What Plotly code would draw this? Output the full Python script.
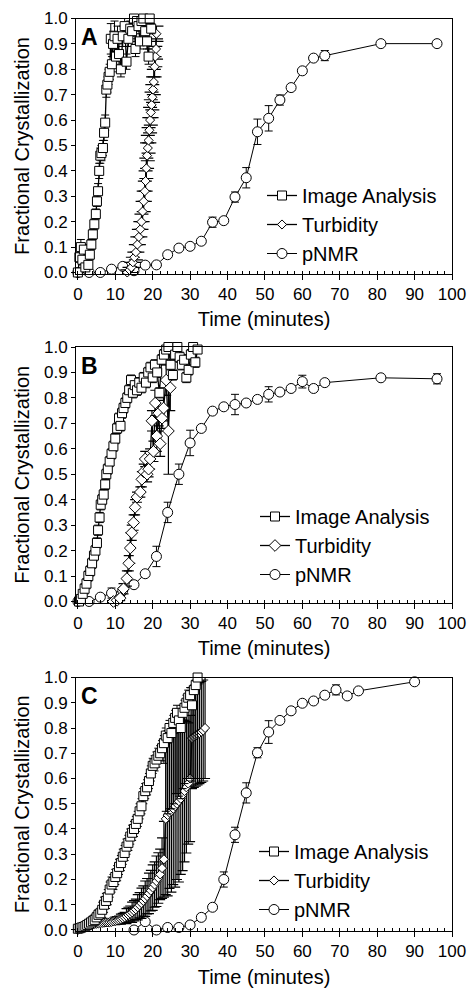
import plotly.graph_objects as go

# ---------------- Panel A ----------------
a_img_t = [0, 0.4, 0.8, 1.2, 1.6, 2.0, 2.8, 3.2, 3.6, 4.0, 4.4, 4.8, 5.1, 5.4, 5.7, 6.0, 6.3, 6.7, 7.0, 7.3,
           7.6, 7.9, 8.2, 8.5, 8.8, 9.1, 9.4, 9.8, 10.2, 10.6, 11.0, 11.5, 12.0, 12.5, 13.0, 13.5, 14.0, 14.5,
           15.0, 15.4, 15.8, 16.2, 16.6, 17.0, 17.5, 18.0, 18.5, 18.9, 19.2, 19.6]
a_img_f = [0.00, 0.06, 0.10, 0.05, 0.09, 0.02, 0.03, 0.07, 0.11, 0.15, 0.19, 0.23, 0.28, 0.32, 0.40, 0.46, 0.47,
           0.49, 0.55, 0.59, 0.72, 0.74, 0.77, 0.79, 0.92, 0.82, 0.90, 0.93, 0.85, 0.92, 0.86, 0.80, 0.93, 0.97,
           0.83, 0.92, 0.96, 0.95, 1.00, 0.88, 0.99, 0.97, 0.91, 0.99, 1.00, 0.95, 0.91, 0.85, 1.00, 0.96]
a_img_e = [0.01, 0.02, 0.03, 0.02, 0.02, 0.01, 0.01, 0.02, 0.02, 0.02, 0.02, 0.02, 0.02, 0.03, 0.03, 0.03, 0.03,
           0.03, 0.03, 0.03, 0.03, 0.03, 0.03, 0.03, 0.06, 0.03, 0.05, 0.06, 0.04, 0.05, 0.04, 0.03, 0.04, 0.03,
           0.03, 0.03, 0.03, 0.03, 0.02, 0.03, 0.02, 0.02, 0.03, 0.02, 0.02, 0.02, 0.03, 0.03, 0.02, 0.02]

a_tur_t = [13.2, 13.8, 14.3, 14.7, 15.1, 15.5, 15.9, 16.3, 16.7, 17.0, 17.3, 17.6, 17.9, 18.1, 18.3, 18.5, 18.7,
           18.9, 19.1, 19.3, 19.5, 19.7, 19.9, 20.1, 20.3, 20.5, 20.7, 20.9, 21.0]
a_tur_f = [0.00, 0.01, 0.02, 0.04, 0.06, 0.08, 0.11, 0.14, 0.17, 0.20, 0.24, 0.28, 0.32, 0.36, 0.41, 0.46, 0.49,
           0.52, 0.56, 0.60, 0.63, 0.66, 0.69, 0.72, 0.75, 0.81, 0.85, 0.88, 0.94]
a_tur_e = [0.01, 0.01, 0.02, 0.02, 0.02, 0.03, 0.03, 0.03, 0.03, 0.03, 0.04, 0.04, 0.04, 0.04, 0.04, 0.05, 0.05,
           0.05, 0.05, 0.05, 0.05, 0.05, 0.05, 0.05, 0.05, 0.04, 0.04, 0.04, 0.03]

a_nmr_t = [0, 3, 6, 9, 12, 15, 18, 21, 24, 27, 30, 33, 36, 39, 42, 45, 48, 51, 54, 57, 60, 63, 66, 81, 96]
a_nmr_f = [0.00, 0.00, 0.00, 0.013, 0.024, 0.007, 0.029, 0.03, 0.07, 0.096, 0.103, 0.123, 0.198, 0.204, 0.297,
           0.373, 0.554, 0.607, 0.679, 0.728, 0.794, 0.844, 0.854, 0.901, 0.901]
a_nmr_e = [0.005, 0.005, 0.005, 0.005, 0.005, 0.005, 0.005, 0.005, 0.01, 0.01, 0.01, 0.01, 0.02, 0.01, 0.02,
           0.04, 0.05, 0.05, 0.02, 0.01, 0.01, 0.01, 0.02, 0.005, 0.005]

# ---------------- Panel B ----------------
b_img_t = [0.3, 0.8, 1.3, 1.8, 2.3, 2.8, 3.3, 3.8, 4.3, 4.7, 5.1, 5.4, 5.8, 6.1, 6.5, 6.9, 7.3, 7.6, 8.0, 8.5,
           9.0, 9.5, 10.0, 10.5, 11.0, 11.4, 11.8, 12.2, 12.7, 13.2, 13.7, 14.2, 14.7, 15.2, 15.8, 16.4, 17.0,
           17.6, 18.2, 18.8, 19.4, 20.0, 20.6, 21.2, 21.8, 22.4, 23.0, 23.6, 24.2, 24.8, 25.4, 26.0, 26.6, 27.2,
           27.8, 28.4, 29.0, 29.6, 30.2, 30.8, 31.4, 32.0]
b_img_f = [0.00, 0.01, 0.03, 0.05, 0.07, 0.10, 0.12, 0.15, 0.18, 0.20, 0.23, 0.28, 0.33, 0.38, 0.40, 0.42, 0.46,
           0.50, 0.52, 0.55, 0.58, 0.61, 0.64, 0.68, 0.72, 0.69, 0.74, 0.76, 0.78, 0.80, 0.83, 0.87, 0.82, 0.85,
           0.83, 0.86, 0.84, 0.88, 0.86, 0.90, 0.92, 0.88, 0.93, 0.90, 0.82, 0.95, 0.97, 0.99, 1.00, 0.93, 0.89,
           0.97, 1.00, 0.96, 0.93, 0.95, 0.88, 0.91, 0.97, 1.00, 0.94, 0.99]
b_img_e = [0.01, 0.01, 0.01, 0.02, 0.02, 0.02, 0.02, 0.02, 0.02, 0.02, 0.02, 0.02, 0.02, 0.02, 0.02, 0.02, 0.02,
           0.02, 0.02, 0.02, 0.02, 0.02, 0.02, 0.02, 0.02, 0.02, 0.02, 0.02, 0.02, 0.02, 0.02, 0.02, 0.02, 0.02,
           0.02, 0.02, 0.02, 0.02, 0.02, 0.02, 0.02, 0.02, 0.02, 0.02, 0.02, 0.02, 0.02, 0.02, 0.01, 0.02, 0.02,
           0.02, 0.01, 0.02, 0.02, 0.02, 0.02, 0.02, 0.02, 0.01, 0.02, 0.01]

b_tur_t = [9.5, 10.5, 11.3, 12.2, 13.1, 13.6, 14.0, 14.4, 14.9, 15.3, 15.8, 16.7, 17.1, 17.6, 18.0, 18.5, 18.9,
           19.3, 19.8, 20.2, 20.7, 21.1, 21.6, 22.0, 22.5, 22.9, 23.6, 24.2, 24.7]
b_tur_f = [0.00, 0.005, 0.013, 0.05, 0.09, 0.15, 0.21, 0.27, 0.31, 0.37, 0.41, 0.43, 0.48, 0.51, 0.56, 0.50, 0.52,
           0.56, 0.71, 0.59, 0.78, 0.65, 0.74, 0.62, 0.72, 0.76, 0.87, 0.67, 0.84]
b_tur_e = [0.005, 0.005, 0.01, 0.02, 0.03, 0.03, 0.06, 0.03, 0.03, 0.03, 0.02, 0.02, 0.03, 0.03, 0.03, 0.03, 0.03,
           0.04, 0.04, 0.04, 0.05, 0.06, 0.05, 0.05, 0.04, 0.05, 0.06, 0.17, 0.09]

b_nmr_t = [0, 3, 6, 9, 12, 15, 18, 21, 24, 27, 30, 33, 36, 39, 42, 45, 48, 51, 54, 57, 60, 63, 66, 81, 96]
b_nmr_f = [0.00, 0.00, 0.017, 0.033, 0.043, 0.066, 0.109, 0.177, 0.35, 0.50, 0.623, 0.68, 0.748, 0.765, 0.774,
           0.78, 0.794, 0.814, 0.823, 0.837, 0.864, 0.837, 0.86, 0.879, 0.875]
b_nmr_e = [0.005, 0.005, 0.01, 0.02, 0.01, 0.01, 0.01, 0.04, 0.04, 0.04, 0.05, 0.01, 0.01, 0.01, 0.04, 0.01,
           0.01, 0.03, 0.01, 0.01, 0.025, 0.01, 0.01, 0.005, 0.02]

# ---------------- Panel C ----------------
c_img_t = [0, 0.5, 1, 1.5, 2, 2.5, 3, 3.5, 4, 4.5, 5, 5.5, 6, 6.5, 7, 7.5, 8, 8.5, 9, 9.5, 10, 10.5, 11, 11.5,
           12, 12.5, 13, 13.5, 14, 14.5, 15, 15.5, 16, 16.5, 17, 17.5, 18, 18.5, 19, 19.5, 20, 20.5, 21, 21.5,
           22, 22.5, 23, 23.5, 24, 24.5, 25, 25.5, 26, 26.5, 27, 27.5, 28, 28.5, 29, 29.5, 30, 30.5, 31, 31.5, 32]
c_img_f = [0.005, 0.007, 0.01, 0.012, 0.015, 0.02, 0.025, 0.03, 0.035, 0.04, 0.05, 0.06, 0.066, 0.08, 0.10,
           0.115, 0.13, 0.16, 0.18, 0.19, 0.21, 0.225, 0.25, 0.265, 0.29, 0.305, 0.33, 0.345, 0.37, 0.385, 0.40,
           0.42, 0.44, 0.47, 0.49, 0.53, 0.55, 0.565, 0.59, 0.62, 0.65, 0.66, 0.675, 0.69, 0.70, 0.72, 0.74, 0.77,
           0.76, 0.80, 0.78, 0.82, 0.84, 0.86, 0.83, 0.80, 0.86, 0.88, 0.90, 0.92, 0.93, 0.89, 0.95, 0.97, 1.00]
c_img_e_plus = [0.01, 0.01, 0.01, 0.01, 0.01, 0.01, 0.015, 0.015, 0.02, 0.02, 0.02, 0.02, 0.02, 0.03, 0.03, 0.03,
                0.03, 0.03, 0.03, 0.03, 0.03, 0.03, 0.03, 0.03, 0.03, 0.03, 0.03, 0.03, 0.03, 0.03, 0.03, 0.03,
                0.03, 0.03, 0.03, 0.03, 0.03, 0.03, 0.03, 0.03, 0.03, 0.03, 0.03, 0.03, 0.03, 0.03, 0.03, 0.03,
                0.03, 0.03, 0.03, 0.03, 0.03, 0.03, 0.03, 0.03, 0.03, 0.03, 0.03, 0.03, 0.03, 0.03, 0.02, 0.02,
                0.0]
c_img_e_minus = [0.01, 0.01, 0.01, 0.01, 0.01, 0.01, 0.015, 0.015, 0.02, 0.02, 0.02, 0.02, 0.02, 0.03, 0.03, 0.03,
                 0.03, 0.03, 0.03, 0.03, 0.03, 0.03, 0.03, 0.03, 0.03, 0.03, 0.03, 0.03, 0.03, 0.03, 0.03, 0.03,
                 0.03, 0.03, 0.03, 0.03, 0.03, 0.03, 0.03, 0.03, 0.03, 0.03, 0.03, 0.03, 0.03, 0.05, 0.08, 0.3,
                 0.3, 0.32, 0.3, 0.32, 0.3, 0.32, 0.3, 0.28, 0.3, 0.3, 0.3, 0.32, 0.33, 0.3, 0.35, 0.37, 0.4]

c_tur_t = [0, 0.5, 1, 1.5, 2, 2.5, 3, 3.5, 4, 4.5, 5, 5.5, 6, 6.5, 7, 7.5, 8, 8.5, 9, 9.5, 10, 10.5, 11, 11.5,
           12, 12.5, 13, 13.5, 14, 14.5, 15, 15.5, 16, 16.5, 17, 17.5, 18, 18.5, 19, 19.5, 20, 20.5, 21, 21.5,
           22, 22.5, 23, 23.5, 24, 24.5, 25, 25.5, 26, 26.5, 27, 27.5, 28, 28.5, 29, 29.5, 30, 30.5, 31, 31.5,
           32, 32.5, 33, 33.5, 34]
c_tur_f = [0.0, 0.005, 0.01, 0.012, 0.015, 0.017, 0.02, 0.02, 0.022, 0.024, 0.025, 0.026, 0.027, 0.028, 0.029,
           0.03, 0.03, 0.031, 0.032, 0.034, 0.036, 0.038, 0.04, 0.043, 0.046, 0.05, 0.055, 0.06, 0.065, 0.07,
           0.076, 0.082, 0.09, 0.098, 0.106, 0.115, 0.124, 0.134, 0.145, 0.156, 0.168, 0.18, 0.193, 0.206, 0.22,
           0.245, 0.28, 0.44, 0.455, 0.465, 0.47, 0.48, 0.49, 0.50, 0.51, 0.52, 0.535, 0.55, 0.565, 0.58, 0.60,
           0.76, 0.765, 0.77, 0.775, 0.78, 0.785, 0.79, 0.80]
c_tur_e = [0.005, 0.005, 0.005, 0.005, 0.005, 0.005, 0.01, 0.01, 0.01, 0.01, 0.01, 0.01, 0.01, 0.01, 0.01, 0.01,
           0.01, 0.01, 0.01, 0.01, 0.015, 0.015, 0.015, 0.02, 0.02, 0.02, 0.03, 0.03, 0.03, 0.04, 0.04, 0.04,
           0.05, 0.05, 0.06, 0.06, 0.07, 0.07, 0.08, 0.08, 0.09, 0.09, 0.1, 0.1, 0.1, 0.12, 0.15, 0.3, 0.32,
           0.3, 0.32, 0.3, 0.32, 0.3, 0.32, 0.3, 0.3, 0.28, 0.26, 0.24, 0.25, 0.2, 0.2, 0.2, 0.2, 0.2, 0.2,
           0.2, 0.2]

c_nmr_t = [15, 18, 21, 24, 27, 30, 33, 36, 39, 42, 45, 48, 51, 54, 57, 60, 63, 66, 69, 72, 75, 90]
c_nmr_f = [0.0, 0.033, 0.0, 0.01, 0.01, 0.02, 0.05, 0.09, 0.20, 0.377, 0.543, 0.702, 0.784, 0.83, 0.868, 0.898,
           0.907, 0.93, 0.951, 0.927, 0.947, 0.983]
c_nmr_e = [0.005, 0.005, 0.005, 0.005, 0.005, 0.01, 0.01, 0.01, 0.03, 0.03, 0.04, 0.02, 0.045, 0.01, 0.01,
           0.01, 0.01, 0.01, 0.02, 0.01, 0.01, 0.005]

panel_letters = ["A", "B", "C"]
series_names = ["Image Analysis", "Turbidity", "pNMR"]
x_ticks = [0, 10, 20, 30, 40, 50, 60, 70, 80, 90, 100]
y_ticks = [0.0, 0.1, 0.2, 0.3, 0.4, 0.5, 0.6, 0.7, 0.8, 0.9, 1.0]

panels = [
    (a_img_t, a_img_f, a_img_e, a_img_e, a_tur_t, a_tur_f, a_tur_e, a_nmr_t, a_nmr_f, a_nmr_e),
    (b_img_t, b_img_f, b_img_e, b_img_e, b_tur_t, b_tur_f, b_tur_e, b_nmr_t, b_nmr_f, b_nmr_e),
    (c_img_t, c_img_f, c_img_e_plus, c_img_e_minus, c_tur_t, c_tur_f, c_tur_e, c_nmr_t, c_nmr_f, c_nmr_e),
]

W, H = 467, 990
FONT = "Liberation Sans, Arial, sans-serif"
# pixel layout of each panel's plotting area (top, bottom)
panel_px = [(18.5, 273.5), (347.0, 602.5), (677.5, 931.0)]
x_px = (76.0, 452.0)
legend_top_px = [176, 497, 832]
legend_left_px = [262, 255, 254]
diamond_sizes = [7, 9, 7]
tur_cap = [7, 5, 5]
tur_line = [1.3, 1.3, 1.3]

fig = go.Figure()

for i, (it, iff, iep, iem, tt, tf, te, nt, nf, ne) in enumerate(panels):
    sfx = "" if i == 0 else str(i + 1)
    xa, ya = "x" + sfx, "y" + sfx
    lg = "legend" + sfx
    common = dict(xaxis=xa, yaxis=ya, legend=lg, cliponaxis=False)
    fig.add_trace(go.Scatter(
        x=nt, y=nf, name=series_names[2], mode="lines+markers", legendrank=3,
        line=dict(color="black", width=1),
        marker=dict(symbol="circle", size=10, color="white", line=dict(color="black", width=1)),
        error_y=dict(type="data", array=ne, color="black", thickness=1, width=4), **common))
    fig.add_trace(go.Scatter(
        x=tt, y=tf, name=series_names[1], mode="lines+markers", legendrank=2,
        line=dict(color="black", width=tur_line[i]),
        marker=dict(symbol="diamond", size=diamond_sizes[i], color="white", line=dict(color="black", width=1)),
        error_y=dict(type="data", array=te, color="black", thickness=1.2, width=tur_cap[i]), **common))
    fig.add_trace(go.Scatter(
        x=it, y=iff, name=series_names[0], mode="lines+markers", legendrank=1,
        line=dict(color="black", width=1.3),
        marker=dict(symbol="square", size=9, color="white", line=dict(color="black", width=1)),
        error_y=dict(type="data", array=iep, arrayminus=iem, color="black", thickness=1, width=4), **common))

    top, bot = panel_px[i]
    xdom = [x_px[0] / W, x_px[1] / W]
    ydom = [1 - bot / H, 1 - top / H]
    fig.layout["xaxis" + sfx] = dict(
        domain=xdom, anchor=ya, range=[-0.5, 100], tickvals=x_ticks, automargin=False,
        ticks="outside", ticklen=5, tickwidth=1, tickcolor="black",
        minor=dict(ticks="inside", dtick=2, ticklen=3, tickwidth=1, tickcolor="black"),
        showline=True, linecolor="black", linewidth=1, mirror=True,
        showgrid=False, zeroline=False,
        tickfont=dict(family=FONT, size=17, color="black"),
        title=dict(text="Time (minutes)", font=dict(family=FONT, size=20, color="black"), standoff=9))
    fig.layout["yaxis" + sfx] = dict(
        domain=ydom, anchor=xa, range=[-0.004, 1.0], tickvals=y_ticks, tickformat=".1f", automargin=False,
        ticks="outside", ticklen=4, tickwidth=1, tickcolor="black",
        showline=True, linecolor="black", linewidth=1, mirror=True,
        showgrid=False, zeroline=False,
        tickfont=dict(family=FONT, size=17, color="black"),
        title=dict(text="Fractional Crystallization", font=dict(family=FONT, size=20, color="black"),
                   standoff=8))
    fig.layout[lg] = dict(
        x=legend_left_px[i] / W, y=1 - legend_top_px[i] / H, xanchor="left", yanchor="top",
        bgcolor="rgba(0,0,0,0)", borderwidth=0,
        font=dict(family=FONT, size=20, color="black"), tracegroupgap=0)
    fig.add_annotation(
        text="<b>%s</b>" % panel_letters[i], xref=xa + " domain", yref=ya + " domain",
        x=0.008, y=0.985, xanchor="left", yanchor="top", showarrow=False,
        font=dict(family=FONT, size=23, color="black"))

fig.update_layout(
    width=W, height=H, margin=dict(l=0, r=0, t=0, b=0),
    paper_bgcolor="white", plot_bgcolor="white", showlegend=True,
)

fig.write_html("out.html", config={"displayModeBar": False},
               post_script="document.body.style.margin='0';document.body.style.overflow='hidden';")
